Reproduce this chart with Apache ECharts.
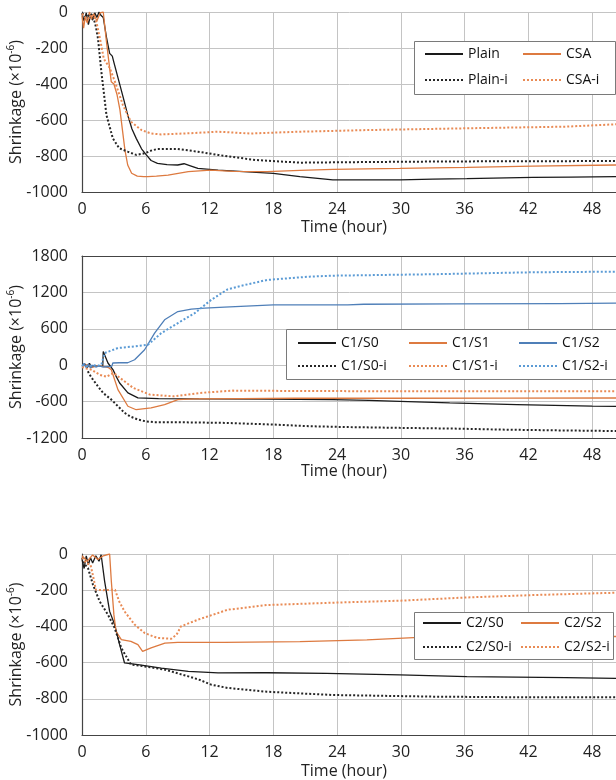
<!DOCTYPE html>
<html>
<head>
<meta charset="utf-8">
<script src="https://cdn.jsdelivr.net/npm/echarts@6/dist/echarts.min.js"></script>
<style>
html,body{margin:0;padding:0;background:#fff;}
#c{width:616px;height:780px;}
</style>
</head>
<body>
<div id="c"></div>
<script>
// ---------- Data: [time (hour), shrinkage (x10^-6)] ----------
// Panel 1
const plain = [[0,-10],[0.2,-50],[0.4,-5],[0.6,-70],[0.8,-20],[1.0,-45],[1.2,-5],[1.4,-30],[1.6,0],[1.8,-20],[2.0,-30],[2.3,-140],[2.6,-230],[2.85,-245],[3.0,-280],[3.4,-369],[3.9,-480],[4.3,-572],[4.7,-650],[5.1,-702],[5.6,-760],[6.05,-794],[6.5,-825],[7.1,-841],[8.0,-848],[9.0,-850],[9.6,-843],[10.2,-855],[10.9,-869],[12.8,-878],[15.2,-887],[18,-896],[20.5,-915],[23.6,-933],[29.9,-933],[33,-928],[36.2,-926],[42.4,-919],[46,-917],[50.2,-915],[54,-915]];
const csa = [[0,-20],[0.15,-90],[0.3,-30],[0.5,-60],[0.7,0],[0.9,-40],[1.1,-10],[1.4,-50],[1.7,-5],[2.0,0],[2.3,-165],[2.75,-387],[3.0,-400],[3.3,-460],[3.57,-544],[4.04,-767],[4.3,-850],[4.67,-896],[5.2,-912],[5.8,-915],[6.2,-915],[7.0,-912],[8.1,-906],[10,-887],[12.1,-878],[14.2,-885],[17.4,-887],[20.5,-880],[23.6,-874],[29.9,-869],[36.2,-863],[42.4,-856],[50.2,-850],[54,-850]];
const plainI = [[0,-5],[0.4,-30],[0.8,-10],[1.03,-20],[1.3,-80],[1.5,-146],[1.82,-331],[2.3,-572],[2.9,-702],[3.5,-757],[4.3,-776],[5.1,-794],[5.9,-785],[6.5,-770],[7.1,-761],[9.0,-761],[10.9,-776],[12.8,-794],[14.5,-808],[16.3,-822],[20.5,-837],[24,-835],[30,-832],[36,-830],[42,-829],[50.2,-828],[54,-828]];
const csaI = [[0,-10],[0.5,-40],[1.0,-20],[1.3,-40],[1.7,-150],[2.05,-260],[2.6,-310],[3.1,-387],[3.85,-517],[4.6,-609],[5.6,-656],[6.5,-675],[7.45,-680],[10,-674],[12.8,-665],[15.8,-675],[20.5,-665],[26.8,-656],[36.2,-646],[45.5,-637],[50.2,-624],[54,-620]];
// Panel 2
const c1s0 = [[0,-10],[0.3,20],[0.5,-40],[0.7,30],[0.9,-30],[1.2,-10],[1.5,-20],[1.95,-15],[2.0,227],[2.44,36],[2.91,-72],[3.2,-180],[3.54,-293],[4.32,-457],[5.26,-539],[7.2,-551],[11,-556],[17,-560],[23.6,-567],[27,-580],[29.9,-595],[34.6,-622],[40.9,-649],[48,-676],[54,-680]];
const c1s1 = [[0,-20],[0.5,10],[1.0,-30],[1.5,-10],[2.0,-20],[2.5,-40],[2.76,-74],[3.38,-403],[4.32,-677],[5.1,-734],[6.5,-704],[7.77,-650],[9.02,-567],[10.6,-556],[15,-550],[20,-545],[30,-545],[40,-543],[54,-540]];
const c1s2 = [[0,-20],[0.2,30],[0.4,-40],[0.6,20],[0.8,-50],[1.0,0],[1.3,-30],[1.6,-10],[2.0,-30],[2.8,-20],[2.9,36],[3.5,40],[4.3,40],[4.95,90],[5.89,255],[6.83,529],[7.77,748],[9.02,884],[10.28,924],[11.53,940],[13.4,957],[18,994],[25,994],[26.5,1005],[35,1010],[45,1015],[50.2,1022],[54,1022]];
const c1s0I = [[0.55,-100],[0.72,-156],[1.0,-230],[1.5,-349],[2.0,-460],[2.76,-567],[3.4,-680],[4.0,-786],[4.6,-850],[5.26,-896],[6.0,-925],[6.83,-940],[9.0,-940],[13.4,-951],[18,-978],[21.4,-1006],[25,-1020],[29.9,-1033],[35,-1045],[39.3,-1061],[45,-1075],[50.2,-1085],[54,-1088]];
const c1s1I = [[0,-30],[0.5,-60],[0.9,-74],[1.3,-120],[1.7,-160],[2.3,-190],[2.7,-150],[3.0,-128],[3.57,-209],[4.82,-375],[6.39,-485],[8.58,-513],[11.1,-457],[14.2,-419],[20,-425],[30,-430],[40,-430],[54,-430]];
const c1s2I = [[0,0],[0.5,-20],[1.0,0],[1.5,-10],[1.82,10],[2.13,200],[3.38,283],[4.95,310],[6.2,337],[7.46,529],[9.02,694],[10.6,858],[12.15,1077],[13.7,1250],[15,1310],[17.4,1405],[21.4,1460],[23.6,1476],[33,1499],[42.4,1532],[50.2,1542],[54,1545]];
// Panel 3
const c2s0 = [[0,-30],[0.2,-80],[0.4,-10],[0.6,-60],[0.8,-20],[1.0,-50],[1.3,-10],[1.6,-40],[1.8,-4],[2.13,-151],[2.6,-317],[3.07,-390],[3.54,-501],[4.0,-602],[5.26,-611],[7.46,-630],[10,-648],[12.8,-657],[17.4,-656],[23,-660],[29.9,-668],[36.2,-678],[45.5,-683],[50.2,-687],[54,-688]];
const c2s2 = [[0,-10],[0.5,-40],[1.0,-5],[1.5,-30],[2.0,-10],[2.6,0],[2.76,-151],[3.0,-335],[3.2,-427],[3.7,-473],[4.6,-483],[5.26,-501],[5.7,-538],[6.5,-519],[7.8,-492],[9.0,-488],[13.4,-488],[20.5,-484],[26.8,-475],[31.2,-462],[40,-458],[54,-455]];
const c2s0I = [[0,-20],[0.3,-60],[0.56,-77],[1.03,-169],[1.66,-262],[2.44,-335],[3.07,-409],[3.7,-519],[4.6,-611],[5.9,-621],[7.8,-639],[10,-676],[11.1,-696],[12.15,-722],[13.7,-740],[17.4,-761],[23.6,-779],[33,-788],[42.4,-792],[54,-792]];
const c2s2I = [[0,-20],[0.4,-50],[0.8,-60],[1.0,-110],[1.3,-197],[2.0,-200],[3.1,-197],[3.5,-262],[4.0,-317],[4.95,-390],[5.9,-437],[7.1,-464],[8.4,-468],[8.9,-446],[9.3,-400],[10.9,-363],[12.8,-326],[13.7,-308],[17.4,-282],[23.6,-269],[29.9,-258],[36.2,-240],[42.4,-227],[50.2,-214],[54,-212]];

const xTicks = [0, 6, 12, 18, 24, 30, 36, 42, 48];
const yRange1 = [-1000, 0, 200];
const yRange2 = [-1200, 1800, 600];
const yRange3 = [-1000, 0, 200];

// ---------- Styles ----------
const FONT = 'Open Sans';
const BLACK = '#1a1a1a', BLACKDOT = '#262626', ORANGE = '#DD7A40', ORANGEDOT = '#E98B55', BLUE = '#4F7FB8', BLUEDOT = '#5B9BD5';
function ser(name, data, idx, color, dotted) {
  return {
    name, type: 'line', data, xAxisIndex: idx, yAxisIndex: idx,
    symbol: 'none', smooth: false, z: 2,
    lineStyle: dotted ? { color, width: 2, type: [2, 2] } : { color, width: 1.3, type: 'solid' },
    itemStyle: { color }
  };
}
function gridAt(top, height) {
  return { left: 82, right: -40, top, height, containLabel: false, outerBoundsMode: 'none' };
}
function xAx(idx, gap) {
  return {
    type: 'value', gridIndex: idx, min: 0, max: 54, interval: 6,
    axisLine: { show: true, onZero: false, lineStyle: { color: '#444', width: 1.2 } },
    axisTick: { show: false },
    axisLabel: { fontFamily: FONT, fontSize: 16, color: '#222', margin: 9,
      formatter: v => xTicks.indexOf(v) >= 0 ? String(v) : '' },
    splitLine: { show: true, lineStyle: { color: '#c4c4c4', width: 1 } },
    name: 'Time (hour)', nameLocation: 'middle', nameGap: gap, nameMoveOverlap: false,
    nameTextStyle: { fontFamily: FONT, fontSize: 16, color: '#222', padding: [0, 50, 0, 0] }
  };
}
function yAx(idx, r) {
  return {
    type: 'value', gridIndex: idx, min: r[0], max: r[1], interval: r[2],
    axisLine: { show: true, onZero: false, lineStyle: { color: '#444', width: 1.2 } },
    axisTick: { show: false },
    axisLabel: { fontFamily: FONT, fontSize: 16, color: '#222', margin: 14, formatter: v => String(v) },
    splitLine: { show: true, lineStyle: { color: '#c4c4c4', width: 1 } },
    name: 'Shrinkage (×10{sup|-6})', nameLocation: 'middle', nameGap: 56, nameRotate: 90, nameMoveOverlap: false,
    nameTextStyle: { fontFamily: FONT, fontSize: 16, color: '#222', lineHeight: 20,
      rich: { sup: { fontFamily: FONT, fontSize: 10, color: '#222', verticalAlign: 'top', lineHeight: 20 } } }
  };
}
const legendStyle = { fontFamily: FONT, fontSize: 14, color: '#111', lineHeight: 16 };
function leg(name, left, top) {
  return { data: [name], left, top, padding: 0, itemWidth: 38, itemHeight: 10, selectedMode: false,
    itemStyle: { opacity: 0 }, textStyle: legendStyle, z: 5 };
}
function box(x, y, w, h) {
  return { type: 'rect', left: x, top: y, z: 3, shape: { width: w, height: h },
    style: { fill: '#fff', stroke: '#7a7a7a', lineWidth: 1 } };
}

const option = {
  animation: false,
  backgroundColor: '#fff',
  grid: [gridAt(12, 180), gridAt(256, 182), gridAt(554, 181)],
  xAxis: [xAx(0, 27), xAx(1, 25), xAx(2, 28),
    { type: 'value', gridIndex: 1, position: 'top', min: 0, max: 54, interval: 6,
      axisLine: { show: true, onZero: false, lineStyle: { color: '#444', width: 1.2 } },
      axisTick: { show: false }, axisLabel: { show: false }, splitLine: { show: false } }],
  yAxis: [yAx(0, yRange1), yAx(1, yRange2), yAx(2, yRange3)],
  graphic: [box(414, 41, 201, 53), box(286, 329, 360, 50), box(414, 612, 199, 47)],
  legend: [
    leg('Plain', 424, 46), leg('CSA', 522, 46), leg('Plain-i', 424, 72), leg('CSA-i', 522, 72),
    leg('C1/S0', 297, 335), leg('C1/S1', 408, 335), leg('C1/S2', 518, 335),
    leg('C1/S0-i', 297, 358), leg('C1/S1-i', 408, 358), leg('C1/S2-i', 518, 358),
    leg('C2/S0', 422, 615), leg('C2/S2', 520, 615), leg('C2/S0-i', 422, 639), leg('C2/S2-i', 520, 639)
  ],
  series: [
    ser('Plain', plain, 0, BLACK, false), ser('CSA', csa, 0, ORANGE, false),
    ser('Plain-i', plainI, 0, BLACKDOT, true), ser('CSA-i', csaI, 0, ORANGEDOT, true),
    ser('C1/S0', c1s0, 1, BLACK, false), ser('C1/S1', c1s1, 1, ORANGE, false), ser('C1/S2', c1s2, 1, BLUE, false),
    ser('C1/S0-i', c1s0I, 1, BLACKDOT, true), ser('C1/S1-i', c1s1I, 1, ORANGEDOT, true), ser('C1/S2-i', c1s2I, 1, BLUEDOT, true),
    ser('C2/S0', c2s0, 2, BLACK, false), ser('C2/S2', c2s2, 2, ORANGE, false),
    ser('C2/S0-i', c2s0I, 2, BLACKDOT, true), ser('C2/S2-i', c2s2I, 2, ORANGEDOT, true)
  ]
};
const chart = echarts.init(document.getElementById('c'), null, { renderer: 'canvas' });
chart.setOption(option);
</script>
</body>
</html>
